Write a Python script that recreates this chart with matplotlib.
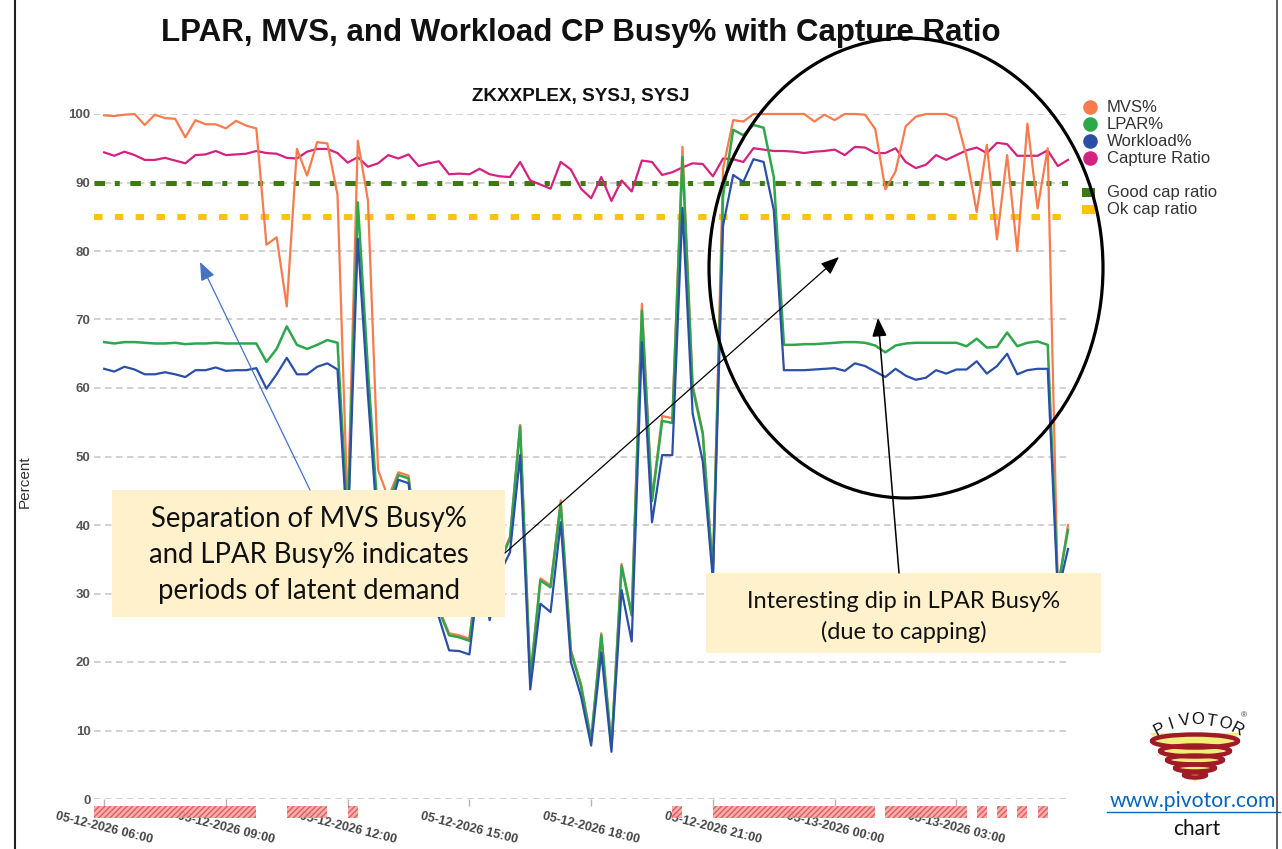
import matplotlib
matplotlib.use('Agg')
import math
import pandas as pd
import matplotlib.pyplot as plt
import matplotlib.dates as mdates
from matplotlib.patches import Rectangle, Ellipse, Polygon

plt.rcParams['font.family'] = ['Liberation Sans', 'DejaVu Sans']
plt.rcParams['lines.scale_dashes'] = False

# 15-minute intervals, 06:00 on 05-12 through 05:45 on 05-13
times = pd.date_range('2026-05-12 06:00', periods=96, freq='15min')

mvs = [99.8, 99.7, 99.9, 100, 98.4, 99.9, 99.4, 99.3, 96.6, 99.1, 98.5, 98.5, 97.9, 99.0, 98.3, 97.9,
       80.9, 82.0, 71.9, 94.9, 91.0, 95.9, 95.7, 88.2, 42.0, 96.1, 87.4, 48.0, 44.0, 47.7, 47.2,
       35.3, 29.8, 27.8, 24.2, 23.9, 23.4, 35.3, 27.8, 34.8, 38.3,
       54.6, 17.8, 32.2, 31.2, 43.6, 21.8, 16.8, 8.8, 24.2, 7.8, 34.3, 27.1, 72.3, 43.8, 55.9, 55.6,
       95.2, 60.5, 53.6, 33.3,
       92.0, 99.1, 98.9, 100, 100, 100,
       100, 100, 100, 98.9, 99.9, 99.1, 100, 100, 99.9, 97.8, 89.0, 91.6, 98.2, 99.6, 100, 100, 100,
       99.4, 93.8, 85.7, 95.5, 81.7, 94.0, 80.0, 98.6, 86.2, 95.0,
       30.5, 40.0]
lpar = [66.7, 66.5, 66.7, 66.7, 66.6, 66.5, 66.5, 66.6, 66.4, 66.5, 66.5, 66.6, 66.5, 66.5, 66.5, 66.5,
        63.8, 65.7, 69.0, 66.3, 65.7, 66.3, 67.0, 66.6, 40.0, 87.1, 62.7, 41.0, 43.0, 47.3, 46.8,
        35.0, 29.5, 27.5, 23.9, 23.6, 23.1, 35.0, 27.5, 34.5, 38.0,
        54.4, 17.5, 31.9, 30.9, 43.1, 21.5, 16.5, 8.5, 23.9, 7.5, 34.0, 26.8, 71.3, 43.5, 55.2, 54.9,
        93.7, 60.0, 53.3, 33.0,
        88.0, 97.7, 96.9, 98.4, 98.0, 90.8,
        66.3, 66.3, 66.4, 66.4, 66.5, 66.6, 66.7, 66.7, 66.6, 66.2, 65.2, 66.2, 66.5, 66.6, 66.6, 66.6,
        66.6, 66.6, 66.1, 67.2, 65.9, 66.0, 68.1, 66.1, 66.6, 66.8, 66.3,
        31.0, 39.3]
workload = [62.8, 62.4, 63.1, 62.7, 62.0, 62.0, 62.3, 62.0, 61.6, 62.6, 62.6, 63.0, 62.5, 62.6, 62.6, 62.9,
            59.9, 62.0, 64.4, 62.0, 62.0, 63.1, 63.6, 62.7, 38.0, 81.8, 59.0, 38.5, 41.5, 46.6, 46.1,
            34.0, 28.5, 26.5, 21.7, 21.6, 21.1, 33.5, 26.1, 33.0, 36.0,
            50.2, 16.0, 28.5, 27.3, 40.4, 20.0, 15.0, 7.8, 21.4, 6.9, 30.5, 23.0, 66.7, 40.4, 50.2, 50.2,
            86.3, 56.3, 49.3, 32.0,
            83.7, 91.1, 90.1, 93.4, 93.0, 86.0,
            62.6, 62.6, 62.6, 62.7, 62.8, 62.9, 62.5, 63.6, 63.2, 62.4, 61.6, 62.8, 61.8, 61.2, 61.5, 62.6,
            62.1, 62.7, 62.7, 63.9, 62.1, 63.2, 65.0, 62.0, 62.6, 62.8, 62.8,
            30.0, 36.5]
capture = [94.4, 93.9, 94.5, 94.0, 93.3, 93.3, 93.6, 93.2, 92.8, 94.0, 94.1, 94.6, 94.0, 94.1, 94.2, 94.6,
           94.3, 94.2, 93.6, 93.5, 94.5, 94.9, 94.9, 94.3, 92.9, 93.7, 92.3, 92.8, 94.0, 93.5, 94.1, 92.4,
           92.8, 93.1, 91.2, 91.3, 91.2, 92.0, 91.2, 90.9, 90.8, 93.0, 90.3, 89.7, 89.1, 93.0, 91.9, 89.1,
           87.7, 90.8, 87.3, 90.3, 88.7, 93.2, 93.0, 91.1, 91.5, 92.2, 92.8, 92.7, 90.9, 93.5, 93.4, 93.0,
           95.0, 94.8, 94.6, 94.6, 94.5, 94.3, 94.5, 94.6, 94.8, 94.0, 95.2, 95.1, 94.3, 94.3, 95.0, 93.0,
           92.1, 92.6, 94.0, 93.3, 94.0, 94.7, 95.1, 94.3, 95.8, 95.6, 93.9, 93.9, 93.9, 94.7, 92.4, 93.3]

good_cap = 90
ok_cap = 85

# capped intervals: (first slot, last slot), inclusive
capped_runs = [(0, 15), (19, 22), (25, 25), (57, 57), (61, 76), (78, 85),
               (87, 87), (89, 89), (91, 91), (93, 93)]

c_mvs = '#f77b4d'
c_lpar = '#2ea64b'
c_work = '#2b4ea6'
c_cr = '#d3227f'
c_good = '#3e7a12'
c_ok = '#ffc20e'

W, H = 1282, 849
fig = plt.figure(figsize=(W / 100, H / 100), dpi=100)
ax = fig.add_axes([94 / W, 50 / H, 974 / W, 685 / H])

ax.set_ylim(0, 100)
ax.set_xlim(times[0] - pd.Timedelta(minutes=15), times[-1])
ax.set_yticks(range(0, 101, 10))
ax.grid(axis='y', color='#c9c9c9', linewidth=1.2, linestyle=(0, (4.7, 3.2)), zorder=0)
ax.set_axisbelow(True)
for s in ax.spines.values():
    s.set_visible(False)

ax.axhline(good_cap, color=c_good, lw=3.6, linestyle=(0, (7.6, 7.0, 3.6, 7.6)), zorder=2)
ax.axhline(ok_cap, color=c_ok, lw=4.3, linestyle=(0, (6.1, 8.9)), zorder=2)

ax.plot(times, capture, color=c_cr, lw=1.6, zorder=3, clip_on=False)
ax.plot(times, mvs, color=c_mvs, lw=1.6, zorder=3, clip_on=False)
ax.plot(times, lpar, color=c_lpar, lw=1.8, zorder=3, clip_on=False)
ax.plot(times, workload, color=c_work, lw=1.6, zorder=3, clip_on=False)

ax.xaxis.set_major_locator(mdates.HourLocator(byhour=range(0, 24, 3)))
ax.xaxis.set_major_formatter(mdates.DateFormatter('%m-%d-%Y %H:%M'))
ax.tick_params(axis='x', length=5, width=1, color='#b5b5b5', pad=3, labelsize=9, labelcolor='#444444')
ax.tick_params(axis='y', length=0, pad=2.5, labelsize=9.5, labelcolor='#555555')
for lab in ax.get_xticklabels():
    lab.set_rotation(-14)
    lab.set_ha('center')
    lab.set_fontweight('bold')
for lab in ax.get_yticklabels():
    lab.set_fontweight('bold')

step = pd.Timedelta(minutes=15)
for a, b in capped_runs:
    ax.axvspan(times[a] - step, times[b], ymin=-0.0277, ymax=-0.0102, facecolor='#f5a5a5',
               edgecolor='#e05555', hatch='//////', lw=0, clip_on=False, zorder=4, alpha=0.9)

fig.text(581 / W, 1 - 33 / H, 'LPAR, MVS, and Workload CP Busy% with Capture Ratio',
         ha='center', va='center', fontsize=22.5, fontweight='bold', color='#111111')
fig.text(581 / W, 1 - 97 / H, 'ZKXXPLEX, SYSJ, SYSJ', ha='center', va='center',
         fontsize=13.6, fontweight='bold', color='#111111')
fig.text(25 / W, 1 - 482 / H, 'Percent', rotation=90, ha='center', va='center',
         fontsize=11, color='#333333')

# overlay in pixel coordinates for legend, callouts and logo
ov = fig.add_axes([0, 0, 1, 1])
ov.set_xlim(0, W)
ov.set_ylim(H, 0)
ov.axis('off')
ov.set_zorder(5)

legend_rows = [('MVS%', c_mvs, 107), ('LPAR%', c_lpar, 124), ('Workload%', c_work, 141),
               ('Capture Ratio', c_cr, 158)]
for name, col, y in legend_rows:
    ov.plot([1090], [y], marker='o', ms=10.5, color=col, mec='none')
    ov.text(1107, y, name, va='center', ha='left', fontsize=12, color='#333333')
for name, col, y in [('Good cap ratio', c_good, 192), ('Ok cap ratio', c_ok, 209)]:
    ov.add_patch(Rectangle((1082, y - 4.5), 13, 9, color=col, lw=0))
    ov.text(1107, y, name, va='center', ha='left', fontsize=12, color='#333333')

box_c = '#fef1cc'
calibri = ['Lato', 'DejaVu Sans']
ov.add_patch(Rectangle((112, 490), 393, 127, facecolor=box_c, edgecolor='none', zorder=6))
for txt, y in [('Separation of MVS Busy%', 519), ('and LPAR Busy% indicates', 555),
               ('periods of latent demand', 591)]:
    ov.text(309, y, txt, ha='center', va='center', fontsize=19.8, family=calibri,
            color='#111111', zorder=7)
ov.add_patch(Rectangle((706, 573), 395, 80, facecolor=box_c, edgecolor='none', zorder=6))
for txt, y in [('Interesting dip in LPAR Busy%', 601), ('(due to capping)', 632)]:
    ov.text(904, y, txt, ha='center', va='center', fontsize=17, family=calibri,
            color='#111111', zorder=7)

ov.add_patch(Ellipse((906, 268), 394, 460, fill=False, ec='black', lw=2.3, zorder=6))


def arrow(tail, tip, color, lw):
    ov.annotate('', xy=tip, xytext=tail, zorder=6,
                arrowprops=dict(arrowstyle='-|>,head_length=0.8,head_width=0.32', color=color,
                                lw=lw, shrinkA=0, shrinkB=0, mutation_scale=14))


arrow((310, 490), (200, 262), '#4472c4', 0.9)
arrow((505, 553), (839, 257), 'black', 0.9)
arrow((899, 573), (878, 318), 'black', 1.1)

# logo
ov.add_patch(Polygon([(1150, 733), (1240, 733), (1195, 782)], closed=True, fc='#f1ef78', ec='none'))
for y, w, h in [(741, 86, 13), (751, 70, 11), (760, 56, 9), (768, 40, 7), (775, 22, 5)]:
    ov.add_patch(Ellipse((1195, y), w, h, fill=False, ec='#a01b25', lw=3.2))
letters = 'PIVOTOR'
for k, ch in enumerate(letters):
    ang = math.radians(117 - k * 54 / 6)
    x = 1198 + 85 * math.cos(ang)
    y = 805 - 85 * math.sin(ang)
    ov.text(x, y, ch, ha='center', va='center', fontsize=12, rotation=math.degrees(ang) - 90,
            color='#111111')
ov.text(1244, 716, '\u00ae', fontsize=6, ha='center', va='center', color='#333333')

ov.text(1193, 801, 'www.pivotor.com', ha='center', va='center', fontsize=15.2,
        family=calibri, color='#0563c1')
ov.plot([1107, 1280], [812, 812], color='#0563c1', lw=1)
ov.text(1197, 829, 'chart', ha='center', va='center', fontsize=15, family=calibri,
        color='#111111')

ov.plot([15, 15], [0, H], color='#222222', lw=1.5)
ov.plot([1277, 1277], [0, H], color='#444444', lw=1.2)

fig.savefig('out.png', dpi=100)
